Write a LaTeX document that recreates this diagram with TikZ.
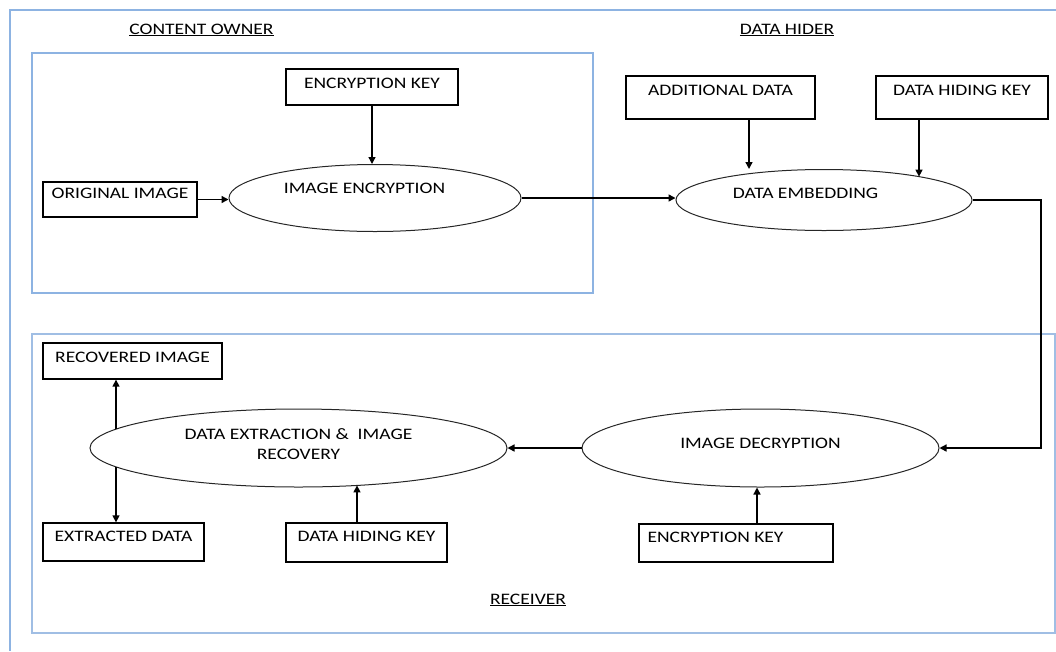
\documentclass[tikz,border=0pt]{standalone}
\usepackage{fontspec}
\setmainfont{Carlito}[FakeStretch=1.22]
\usetikzlibrary{arrows.meta,shapes.geometric}
\definecolor{frameblue}{RGB}{141,179,226}
\definecolor{framelight}{RGB}{160,190,228}
\begin{document}
\begin{tikzpicture}[x=1pt,y=-1pt,
  every node/.style={font=\fontsize{16pt}{20pt}\selectfont},
  frame/.style={draw=frameblue,line width=1.2pt},
  box/.style={draw=black,line width=1.3pt,rectangle,inner xsep=0pt,inner ysep=0pt},
  oval/.style={draw=black!85,line width=1pt,ellipse,inner sep=0pt},
  arr/.style={line width=1.4pt,-{Triangle[length=7pt,width=7pt]}},
  heading/.style={inner sep=0pt,anchor=base}
]
\useasboundingbox (0,0) rectangle (1056,651);
% outer frame
\draw[draw=frameblue,line width=1.6pt] (1056,10) -- (10,10) -- (10,651);
% group frames
\draw[frame] (32,53) rectangle (593,293);
\draw[draw=framelight,line width=1.2pt] (32,334) rectangle (1055,633);

% headings
\node[heading] (hco) at (201.5,34) {\underline{CONTENT OWNER}};
\node[heading] (hdh) at (787,34) {\underline{DATA HIDER}};
\node[heading] (hrc) at (528,604) {\underline{RECEIVER}};

% boxes
\node[box,minimum width=172pt,minimum height=36pt,text height=19pt,text depth=17pt] (ek1) at (372,87) {ENCRYPTION KEY};
\node[box,minimum width=154pt,minimum height=35pt,text height=16pt,text depth=19pt] (orig) at (120,199.5) {ORIGINAL IMAGE};
\node[box,minimum width=189pt,minimum height=43pt,text height=19pt,text depth=24pt] (add) at (720.5,97.5) {ADDITIONAL DATA};
\node[box,minimum width=172pt,minimum height=43pt,text height=19pt,text depth=24pt] (dhk1) at (962,97.5) {DATA HIDING KEY};
\node[box,minimum width=179pt,minimum height=36pt,text height=19pt,text depth=17pt] (rec) at (132.5,361) {RECOVERED IMAGE};
\node[box,minimum width=161pt,minimum height=38pt,text height=18pt,text depth=20pt] (extd) at (123.5,542) {EXTRACTED DATA};
\node[box,minimum width=161pt,minimum height=39pt,text height=18pt,text depth=21pt] (dhk2) at (366.5,542.5) {DATA HIDING KEY};
\node[box,minimum width=194pt,minimum height=38pt,text height=18pt,text depth=20pt] (ek2) at (736,543) {ENCRYPTION KEY\hspace*{41pt}};

% ellipses
\node[oval,minimum width=292pt,minimum height=67pt] (ienc) at (375,198) {IMAGE ENCRYPTION\hspace*{21pt}\rule[-20pt]{0pt}{0pt}};
\node[oval,minimum width=296pt,minimum height=61pt] (demb) at (824,200) {DATA EMBEDDING\hspace*{37pt}\rule[-14pt]{0pt}{0pt}};
\node[oval,minimum width=357pt,minimum height=78pt] (idec) at (760.5,448) {IMAGE DECRYPTION\rule[-10pt]{0pt}{0pt}};
\node[oval,minimum width=417pt,minimum height=78pt,align=center] (ext) at (298.5,448) {DATA EXTRACTION \&\ \ IMAGE\\RECOVERY\rule[-8pt]{0pt}{0pt}};

% border points on the ellipses
\coordinate (embtop) at ([xshift=95pt,yshift=23.4pt]demb.center);
\coordinate (exbot) at ([xshift=58.5pt,yshift=-37.4pt]ext.center);
\coordinate (exul) at ([xshift=-182.5pt,yshift=18.9pt]ext.center);
\coordinate (exll) at ([xshift=-182.5pt,yshift=-18.9pt]ext.center);
\coordinate (bend) at (1041,320);

% connectors
\draw[arr] (ek1.south) -- (ek1.south |- ienc.north);
\draw[arr] (orig.east) -- (orig.east -| ienc.west);
\draw[arr] (ienc.east) -- (ienc.east -| demb.west);
\draw[arr] ([xshift=28.5pt]add.south) -- ([xshift=28.5pt]add.south |- demb.north);
\draw[arr] (dhk1.south -| embtop) -- (embtop);
\draw[arr] (demb.east) -- (demb.east -| bend) -- (bend |- idec.east) -- (idec.east);
\draw[arr] (idec.west) -- (ext.east);
\draw[arr] ([xshift=21pt]ek2.north) -- ([xshift=21pt]ek2.north |- idec.south);
\draw[arr] (dhk2.north -| exbot) -- (exbot);
\draw[arr] (exul) -- (rec.south -| exul);
\draw[arr] (exll) -- (extd.north -| exll);
\end{tikzpicture}
\end{document}
